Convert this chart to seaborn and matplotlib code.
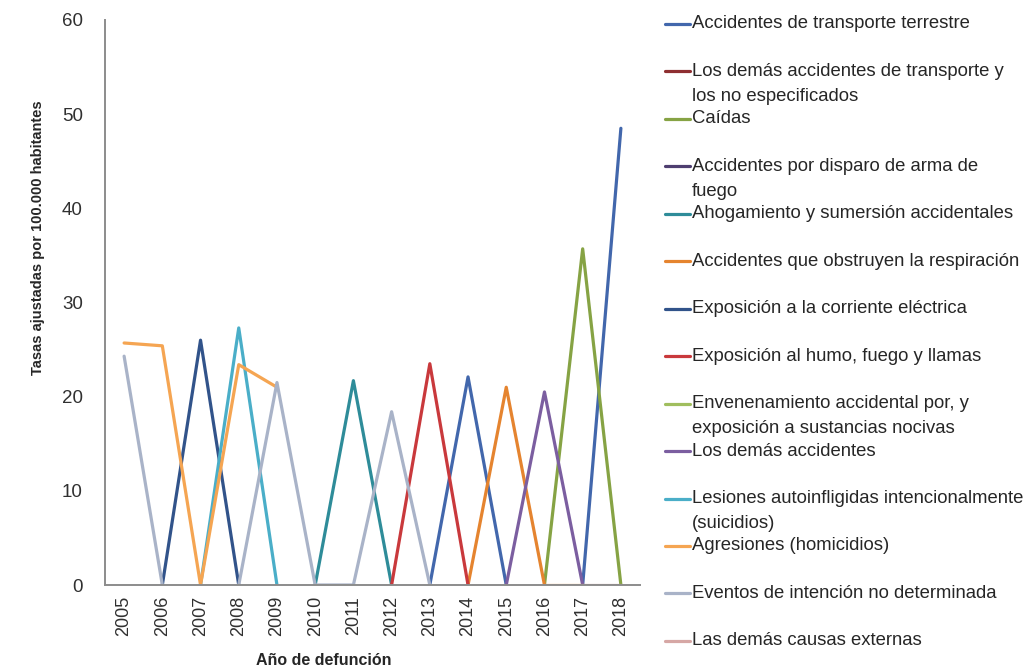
import numpy as np
import pandas as pd
import matplotlib
matplotlib.use("Agg")
import matplotlib.pyplot as plt
from matplotlib.lines import Line2D
import seaborn as sns

na = np.nan

years = [2005, 2006, 2007, 2008, 2009, 2010, 2011, 2012, 2013, 2014, 2015, 2016, 2017, 2018]

causas = [
    "Accidentes de transporte terrestre",
    "Los demás accidentes de transporte y\nlos no especificados",
    "Caídas",
    "Accidentes por disparo de arma de\nfuego",
    "Ahogamiento y sumersión accidentales",
    "Accidentes que obstruyen la respiración",
    "Exposición a la corriente eléctrica",
    "Exposición al humo, fuego y llamas",
    "Envenenamiento accidental por, y\nexposición a sustancias nocivas",
    "Los demás accidentes",
    "Lesiones autoinfligidas intencionalmente\n(suicidios)",
    "Agresiones (homicidios)",
    "Eventos de intención no determinada",
    "Las demás causas externas",
]

colores = ["#4267AC", "#8E2F31", "#86A344", "#4E3E70", "#2E8C99", "#E5842F", "#31538A",
           "#C9393C", "#A0BE5E", "#7B5EA0", "#4AAEC8", "#F5A552", "#A9B3C8", "#D6A7A5"]

# tasas ajustadas por 100.000 habitantes (vacío = sin dato)
transporte_terrestre = [na, na, na, na, na, na, na, na, 0, 22.1, 0, na, 0, 48.5]
demas_transporte = [na] * 14
caidas = [na, na, na, na, na, na, na, na, na, na, na, 0, 35.7, 0]
disparo = [na] * 14
ahogamiento = [na, na, na, na, na, 0, 21.7, 0, na, na, na, na, na, na]
obstruyen = [na, na, na, na, na, na, na, na, na, 0, 21.0, 0, na, na]
corriente = [na, 0, 26.0, 0, na, na, na, na, na, na, na, na, na, na]
humo = [na, na, na, na, na, na, na, 0, 23.5, 0, na, na, na, na]
envenenamiento = [na] * 14
demas_accidentes = [na, na, na, na, na, na, na, na, na, na, 0, 20.5, 0, na]
suicidios = [na, na, 0, 27.3, 0, na, na, na, na, na, na, na, na, na]
homicidios = [25.7, 25.4, 0, 23.4, 21.0, na, na, na, na, na, na, 0, 0, na]
no_determinada = [24.3, 0, na, 0, 21.5, 0, 0, 18.4, 0, na, na, na, na, na]
demas_causas = [na, na, na, na, na, na, na, na, na, na, na, na, 0, 0]

series = [transporte_terrestre, demas_transporte, caidas, disparo, ahogamiento, obstruyen,
          corriente, humo, envenenamiento, demas_accidentes, suicidios, homicidios,
          no_determinada, demas_causas]

# long table; a new segment starts after each gap so lines break like Excel
rows = []
for causa, valores in zip(causas, series):
    seg = 0
    prev = False
    for anio, v in zip(years, valores):
        if np.isnan(v):
            prev = False
            continue
        if not prev:
            seg += 1
        prev = True
        rows.append({"causa": causa, "anio": anio, "tasa": v, "seg": seg})
df = pd.DataFrame(rows)

sns.set_style("white")
plt.rcParams["font.family"] = ["Liberation Sans", "DejaVu Sans"]

fig = plt.figure(figsize=(10.28, 6.71), dpi=100)
ax = fig.add_axes([105 / 1028, 1 - 585 / 671, 535 / 1028, 565 / 671])

palette = dict(zip(causas, colores))
sns.lineplot(data=df, x="anio", y="tasa", hue="causa", units="seg", estimator=None,
             hue_order=causas, palette=palette, linewidth=2.3, legend=False, ax=ax)

ax.set_xlim(2004.5, 2018.5)
ax.set_ylim(0, 60)
ax.set_xticks(years)
ax.set_xticklabels([str(y) for y in years], rotation=90, fontsize=13, color="#303030")
ax.set_xticks(np.arange(2004.5, 2019, 1), minor=True)
ax.tick_params(axis="x", which="major", length=0, pad=8)
ax.tick_params(axis="x", which="minor", length=6, width=1.2, color="#8c8c8c", direction="out")
ax.set_yticks(range(0, 61, 10))
ax.tick_params(axis="y", length=6, width=1.2, color="#8c8c8c", direction="out", labelsize=13.5,
               labelcolor="#303030", pad=10)
sns.despine(ax=ax)
for s in ["left", "bottom"]:
    ax.spines[s].set_color("#8c8c8c")
    ax.spines[s].set_linewidth(1.4)

ax.set_xlabel("Año de defunción", fontsize=11.5, fontweight="bold")
ax.set_ylabel("Tasas ajustadas por 100.000 habitantes", fontsize=10.5, fontweight="bold")
ax.xaxis.set_label_coords(0.408, -0.12)
ax.yaxis.set_label_coords(-0.112, 0.615)

# legend drawn entry by entry: first line aligned with the handle, extra lines hang below
y0 = 24
paso = 47.45
for i, (causa, c) in enumerate(zip(causas, colores)):
    yc = y0 + i * paso
    fig.add_artist(Line2D([665 / 1028, 690 / 1028], [1 - yc / 671, 1 - yc / 671],
                          color=c, linewidth=2.3))
    for k, linea in enumerate(causa.split("\n")):
        fig.text(692 / 1028, 1 - (yc + k * 25) / 671, linea, fontsize=13.3,
                 va="center", ha="left", color="#262626")

fig.savefig("out.png", dpi=100)
